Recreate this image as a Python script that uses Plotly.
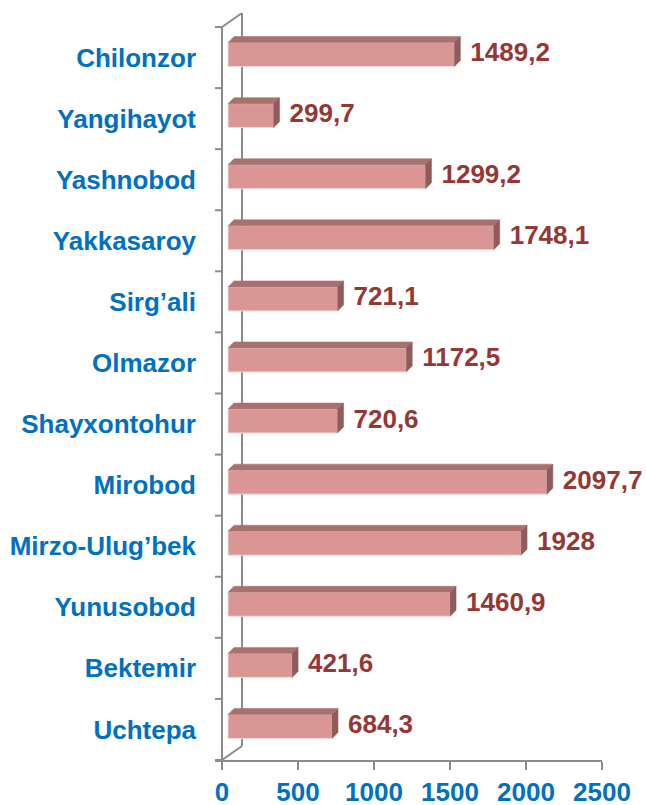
import plotly.graph_objects as go

# ---------------- data ----------------
districts = ["Chilonzor", "Yangihayot", "Yashnobod", "Yakkasaroy", "Sirg’ali", "Olmazor",
             "Shayxontohur", "Mirobod", "Mirzo-Ulug’bek", "Yunusobod", "Bektemir", "Uchtepa"]
values = [1489.2, 299.7, 1299.2, 1748.1, 721.1, 1172.5, 720.6, 2097.7, 1928, 1460.9, 421.6, 684.3]
x_ticks = [0, 500, 1000, 1500, 2000, 2500]

# ---------------- geometry / style ----------------
W, H = 646, 805
X_MAX = 2500
X_PX = 380 / X_MAX          # pixels per data unit on x
ROW_PX = 733 / 12           # pixels per category row
n = len(districts)
ypos = [n - 1 - i for i in range(n)]


def ux(px):
    return px / X_PX


def uy(px):
    return px / ROW_PX


LEFT_PAD = ux(7)
BAR_DX = ux(6)
BAR_DY = uy(3)
BAR_H = uy(24)
FACE_DX = ux(6)
FACE_DY = uy(6)
WALL_DX = ux(20)
WALL_DY = uy(14)
LABEL_GAP = ux(10)
Y_LO = -0.5
Y_HI = n - 0.5
Y_TOP = Y_HI + uy(18)

FRONT = "#D99694"
TOP = "#A8716F"
SIDE = "#8E5C5A"
EDGE = "#F2DCDB"
LABEL = "#953735"
CAT = "#0070C0"
AXIS = "#8C8C8C"
FONT = "Liberation Sans, Arial, sans-serif"

margin_l = 222 - 7
margin_r = W - 602
margin_b = 45
plot_h = (Y_TOP - Y_LO) * ROW_PX
margin_t = H - margin_b - plot_h

fig = go.Figure()

# front faces
fig.add_trace(go.Bar(
    y=[p + BAR_DY for p in ypos], x=values, base=BAR_DX, orientation="h",
    width=BAR_H, marker=dict(color=FRONT, line=dict(color=EDGE, width=1)),
    hoverinfo="skip", showlegend=False))

# top & side faces
tx, ty, sx, sy = [], [], [], []
for p, v in zip(ypos, values):
    yc = p + BAR_DY
    top = yc + BAR_H / 2
    bot = yc - BAR_H / 2
    x0 = BAR_DX
    x1 = BAR_DX + v
    tx += [x0, x1, x1 + FACE_DX, x0 + FACE_DX, x0, None]
    ty += [top, top, top + FACE_DY, top + FACE_DY, top, None]
    sx += [x1, x1, x1 + FACE_DX, x1 + FACE_DX, x1, None]
    sy += [bot, top, top + FACE_DY, bot + FACE_DY, bot, None]

fig.add_trace(go.Scatter(x=tx, y=ty, mode="lines", fill="toself", fillcolor=TOP,
                         line=dict(color=TOP, width=0.5), hoverinfo="skip", showlegend=False))
fig.add_trace(go.Scatter(x=sx, y=sy, mode="lines", fill="toself", fillcolor=SIDE,
                         line=dict(color=SIDE, width=0.5), hoverinfo="skip", showlegend=False))

# value labels
labels = [f"{v:g}".replace(".", ",") for v in values]
fig.add_trace(go.Scatter(
    x=[BAR_DX + v + FACE_DX + LABEL_GAP for v in values],
    y=[p + BAR_DY for p in ypos], mode="text", text=labels,
    textposition="middle right", cliponaxis=False,
    textfont=dict(family=FONT, size=26, color=LABEL, weight="bold"),
    hoverinfo="skip", showlegend=False))

# frame (walls) as shapes
shapes = []
line = dict(color=AXIS, width=2)
shapes.append(dict(type="line", xref="x", yref="y", x0=0, y0=Y_LO, x1=0, y1=Y_HI, line=line, layer="below"))
shapes.append(dict(type="line", xref="x", yref="y", x0=0, y0=Y_HI, x1=WALL_DX, y1=Y_HI + WALL_DY, line=line, layer="below"))
shapes.append(dict(type="line", xref="x", yref="y", x0=0, y0=Y_LO, x1=WALL_DX, y1=Y_LO + WALL_DY, line=line, layer="below"))
shapes.append(dict(type="line", xref="x", yref="y", x0=WALL_DX, y0=Y_LO + WALL_DY, x1=WALL_DX, y1=Y_HI + WALL_DY, line=line, layer="below"))
for k in range(n + 1):
    b = Y_LO + k
    shapes.append(dict(type="line", xref="x", yref="y", x0=-LEFT_PAD, y0=b, x1=0, y1=b, line=line, layer="below"))

fig.update_layout(
    width=W, height=H,
    margin=dict(l=margin_l, r=margin_r, t=margin_t, b=margin_b, pad=0, autoexpand=False),
    plot_bgcolor="white", paper_bgcolor="white",
    shapes=shapes, bargap=0,
    xaxis=dict(range=[-LEFT_PAD, X_MAX], tickvals=x_ticks, ticktext=[str(t) for t in x_ticks],
               showgrid=False, zeroline=False, showline=True, linecolor=AXIS, linewidth=2,
               ticks="outside", ticklen=8, tickwidth=2, tickcolor=AXIS, ticklabelstandoff=0,
               automargin=False,
               tickfont=dict(family=FONT, size=26, color=CAT, weight="bold"), fixedrange=True),
    yaxis=dict(range=[Y_LO, Y_TOP], tickvals=ypos, ticktext=districts,
               showgrid=False, zeroline=False, showline=False, ticks="",
               ticklabelstandoff=18, automargin=False,
               tickfont=dict(family=FONT, size=26, color=CAT, weight="bold"), fixedrange=True),
)

fig.write_html("out.html", config={"staticPlot": True},
               post_script="document.body.style.margin='0';document.body.style.padding='0';")
